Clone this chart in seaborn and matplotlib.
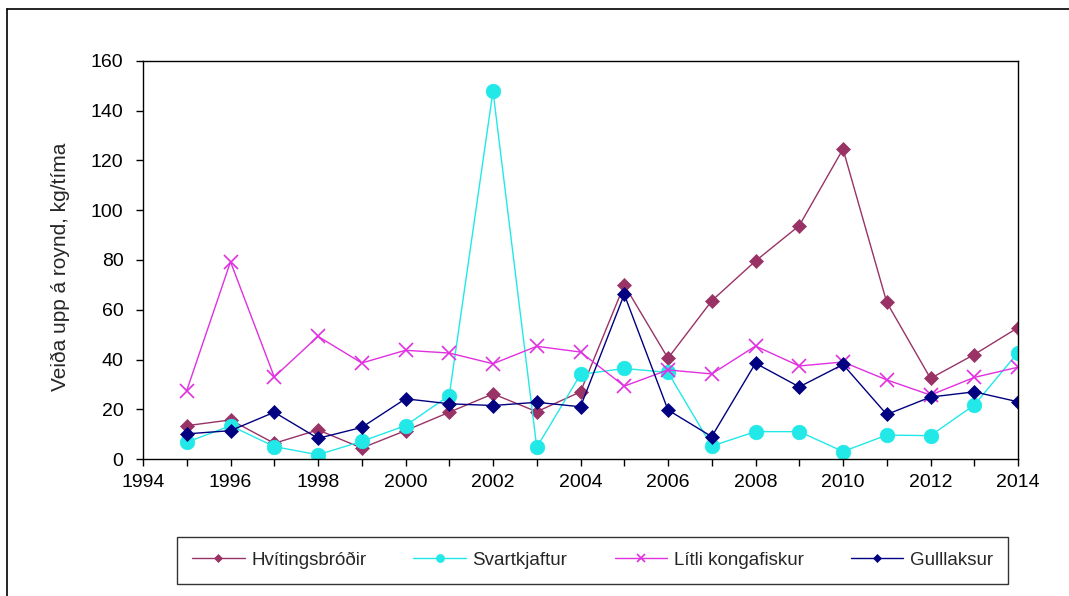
import matplotlib
matplotlib.use("Agg")
import matplotlib.pyplot as plt
import seaborn as sns
import pandas as pd
from matplotlib.lines import Line2D
from matplotlib.ticker import MultipleLocator

years = list(range(1995, 2015))
hvitingsbrodir = [13.4, 15.7, 6.3, 11.7, 4.4, 11.4, 18.8, 26.2, 19.0, 27.0,
                  70.0, 40.5, 63.6, 79.6, 93.8, 124.6, 63.0, 32.4, 42.0, 52.8]
svartkjaftur = [6.7, 13.4, 5.0, 1.7, 7.1, 13.4, 25.5, 147.9, 4.7, 34.0,
                36.4, 34.8, 5.2, 11.0, 11.0, 3.0, 9.6, 9.4, 21.7, 42.8]
litli_kongafiskur = [27.5, 79.3, 33.0, 49.3, 38.6, 43.7, 42.6, 38.3, 45.3, 43.0,
                     29.3, 35.8, 34.2, 45.4, 37.4, 39.0, 31.8, 25.7, 32.8, 36.9]
gulllaksur = [10.1, 11.4, 18.8, 8.3, 12.7, 24.2, 22.2, 21.5, 22.8, 21.0,
              66.2, 19.7, 9.0, 38.5, 29.0, 38.0, 17.9, 24.9, 27.0, 23.0]
series_names = ["Hvítingsbróðir", "Svartkjaftur", "Lítli kongafiskur", "Gulllaksur"]
ylabel = "Veiða upp á roynd, kg/tíma"

sns.set_style("white")
plt.rcParams['font.family'] = ['Liberation Sans', 'DejaVu Sans']

fig = plt.figure(figsize=(10.69, 5.96), dpi=100)
ax = fig.add_axes([143/1069, 1-459/596, (1018-143)/1069, (459-61)/596])

styles = [
    (hvitingsbrodir, "#993366", "D", 7, 1.0),
    (svartkjaftur, "#22E8E8", "o", 10.5, 1.0),
    (litli_kongafiskur, "#E030E0", "x", 10, 1.0),
    (gulllaksur, "#000080", "D", 7, 1.0),
]
for name, (vals, col, mk, ms, lw) in zip(series_names, styles):
    df = pd.DataFrame({"year": years, "value": vals})
    sns.lineplot(data=df, x="year", y="value", ax=ax, color=col, marker=mk,
                 markersize=ms, linewidth=lw, markeredgecolor=col,
                 markeredgewidth=1.2 if mk == "x" else 0.5, label=name)

ax.set_xlim(1994, 2014)
ax.set_ylim(0, 160)
ax.xaxis.set_major_locator(MultipleLocator(2))
ax.xaxis.set_minor_locator(MultipleLocator(1))
ax.yaxis.set_major_locator(MultipleLocator(20))
ax.tick_params(axis='both', which='both', direction='out', length=5, width=1,
               color='black', labelsize=14, labelcolor='black')
ax.tick_params(axis='x', which='both', bottom=True, pad=6)
ax.tick_params(axis='y', left=True, pad=9)
ax.set_xlabel("")
ax.set_ylabel(ylabel, fontsize=15)
ax.yaxis.set_label_coords((70-143)/875, 0.484)
for s in ax.spines.values():
    s.set_color('black')
    s.set_linewidth(1.0)
ax.grid(False)

x0, x1, y0, y1 = 177/1069, 1008/1069, 1-584/596, 1-537/596
leg = ax.legend(loc='lower left', bbox_to_anchor=(x0, y0, x1-x0, y1-y0),
                bbox_transform=fig.transFigure, mode='expand', ncol=4,
                frameon=True, fancybox=False, edgecolor='black', fontsize=13.5,
                markerscale=0.55, handlelength=2.8, borderaxespad=0,
                borderpad=0.8, handletextpad=0.35)
leg.get_frame().set_linewidth(1.0)

# outer chart border (top and left visible)
fig.add_artist(Line2D([7/1069, 7/1069], [0, 1-9/596], color='black', lw=1.2,
                      transform=fig.transFigure))
fig.add_artist(Line2D([7/1069, 1], [1-9/596, 1-9/596], color='black', lw=1.2,
                      transform=fig.transFigure))

fig.savefig("out.png", dpi=100, facecolor='white')
